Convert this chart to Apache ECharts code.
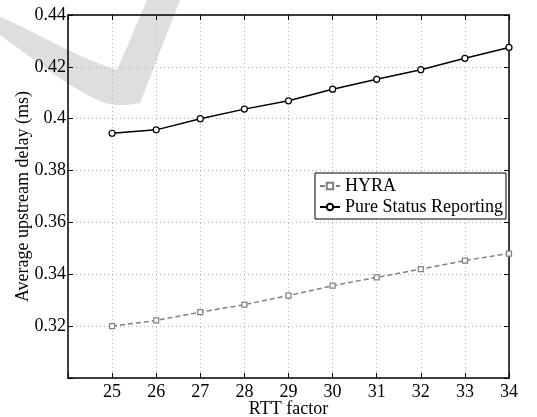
<!DOCTYPE html>
<html>
<head>
<meta charset="utf-8">
<script src="https://cdn.jsdelivr.net/npm/echarts@6/dist/echarts.min.js"></script>
<style>
  html, body { margin: 0; padding: 0; background: #fff; }
  #wrap { position: relative; width: 537px; height: 417px; }
  #mark { position: absolute; left: 0; top: 0; }
  #chart { position: absolute; left: 0; top: 0; width: 537px; height: 417px; }
</style>
</head>
<body>
<div id="wrap">
  <!-- faint watermark swoosh behind the chart -->
  <svg id="mark" width="537" height="417">
    <path d="M0,17 C30,28 70,55 117,70 L147,0 L180,0 L140,103 C125,106 110,106 100,101 C70,88 35,60 0,35 Z" fill="#dedede"/>
  </svg>
  <div id="chart"></div>
</div>
<script>
// RTT factor (x) values
const rttFactor = [25, 26, 27, 28, 29, 30, 31, 32, 33, 34];
// average upstream delay (ms)
const hyraDelay = [0.3200, 0.3222, 0.3254, 0.3283, 0.3318, 0.3356, 0.3388, 0.3420, 0.3453, 0.3480];
const pureDelay = [0.3944, 0.3957, 0.4000, 0.4037, 0.4069, 0.4114, 0.4152, 0.4189, 0.4233, 0.4275];

const FONT = '"Liberation Serif", "DejaVu Serif", serif';
const FS = 18;

const chart = echarts.init(document.getElementById('chart'));

// helper: pair x with y values
const pairs = (ys) => rttFactor.map((x, i) => [x, ys[i]]);

// top / right axes only close the box (ticks, no labels)
const boxAxis = {
    axisLine: { show: true, lineStyle: { color: '#000', width: 1.5 } },
    axisTick: { show: true, inside: true, length: 5, lineStyle: { color: '#000', width: 1 } },
    axisLabel: { show: false },
    splitLine: { show: false }
};

const option = {
    animation: false,
    backgroundColor: 'transparent',
    grid: { left: 68, right: 28, top: 15, bottom: 39, outerBoundsMode: 'none' },
    legend: {
        orient: 'vertical',
        left: 315,
        top: 173,
        padding: [4, 3, 3, 4],
        itemGap: 3,
        itemWidth: 20,
        itemHeight: 8,
        backgroundColor: '#fff',
        borderColor: '#000',
        borderWidth: 1,
        textStyle: { fontFamily: FONT, fontSize: FS, color: '#000' },
        data: ['HYRA', 'Pure Status Reporting']
    },
    xAxis: [{
        type: 'value',
        min: 24,
        max: 34,
        interval: 1,
        name: 'RTT factor',
        nameLocation: 'middle',
        nameGap: 22,
        nameMoveOverlap: false,
        nameTextStyle: { fontFamily: FONT, fontSize: FS, color: '#000' },
        axisLine: { show: true, lineStyle: { color: '#000', width: 1.5 } },
        axisTick: { show: true, inside: true, length: 5, lineStyle: { color: '#000' } },
        axisLabel: {
            fontFamily: FONT, fontSize: FS, color: '#000', margin: 5,
            formatter: v => (v === 24 ? '' : String(v))
        },
        splitLine: { show: true, lineStyle: { color: '#b5b5b5', type: [1, 3], width: 1 } }
    }, Object.assign({ type: 'value', position: 'top', min: 24, max: 34, interval: 1 }, boxAxis)],
    yAxis: [{
        type: 'value',
        min: 0.30,
        max: 0.44,
        interval: 0.02,
        name: 'Average upstream delay (ms)',
        nameLocation: 'middle',
        nameGap: 36,
        nameMoveOverlap: false,
        nameTextStyle: { fontFamily: FONT, fontSize: FS, color: '#000' },
        axisLine: { show: true, lineStyle: { color: '#000', width: 1.5 } },
        axisTick: { show: true, inside: true, length: 5, lineStyle: { color: '#000' } },
        axisLabel: {
            fontFamily: FONT, fontSize: FS, color: '#000', margin: 2,
            formatter: v => (Math.abs(v - 0.3) < 1e-9 ? '' : String(+v.toFixed(2)))
        },
        splitLine: { show: true, lineStyle: { color: '#b5b5b5', type: [1, 3], width: 1 } }
    }, Object.assign({ type: 'value', position: 'right', min: 0.30, max: 0.44, interval: 0.02 }, boxAxis)],
    series: [{
        name: 'HYRA',
        type: 'line',
        data: pairs(hyraDelay),
        symbol: 'rect',
        symbolSize: 5,
        color: '#808080',
        lineStyle: { color: '#808080', width: 1.5, type: [5, 3] },
        itemStyle: { color: '#fff', borderColor: '#808080', borderWidth: 1.2 }
    }, {
        name: 'Pure Status Reporting',
        type: 'line',
        data: pairs(pureDelay),
        symbol: 'circle',
        symbolSize: 6,
        color: '#000',
        lineStyle: { color: '#000', width: 1.5 },
        itemStyle: { color: '#fff', borderColor: '#000', borderWidth: 1.2 }
    }]
};

chart.setOption(option);
</script>
</body>
</html>
